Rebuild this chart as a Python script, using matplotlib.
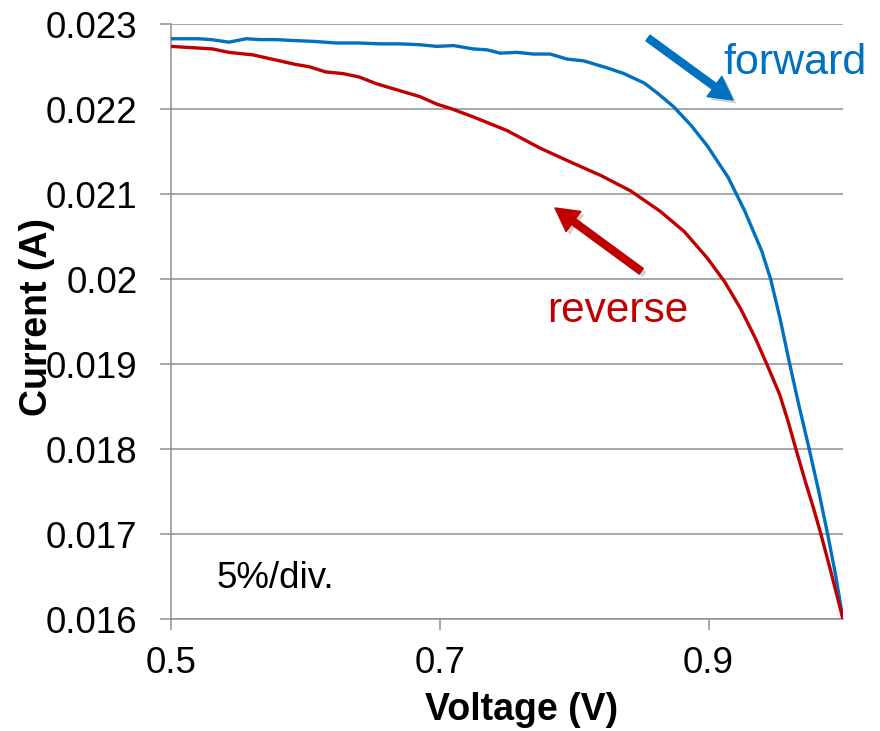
import matplotlib
matplotlib.use("Agg")
import matplotlib.pyplot as plt
from matplotlib.ticker import FixedLocator, FixedFormatter
import matplotlib.patheffects as pe

plt.rcParams['font.family'] = ['Liberation Sans', 'DejaVu Sans']

# Forward sweep (V, A)
v_forward = [0.500, 0.510, 0.520, 0.530, 0.543, 0.556, 0.566, 0.578, 0.590, 0.605,
             0.623, 0.640, 0.655, 0.670, 0.685, 0.698, 0.710, 0.725, 0.735, 0.745,
             0.757, 0.770, 0.782, 0.795, 0.807, 0.824, 0.837, 0.852, 0.862, 0.874,
             0.887, 0.899, 0.9145, 0.927, 0.9396, 0.9462, 0.9530, 0.9600, 0.9670,
             0.9749, 0.9820, 0.9886, 0.9945, 1.000]
i_forward = [0.02283, 0.02283, 0.02283, 0.02282, 0.02279, 0.02283, 0.02282, 0.02282, 0.02281, 0.02280,
             0.02278, 0.02278, 0.02277, 0.02277, 0.02276, 0.02274, 0.02275, 0.02271, 0.02270, 0.02266,
             0.02267, 0.02265, 0.02265, 0.02259, 0.02257, 0.02249, 0.02242, 0.02231, 0.02219, 0.02203,
             0.02181, 0.02157, 0.02120, 0.02080, 0.02033, 0.02000, 0.01955, 0.01903, 0.01853,
             0.01800, 0.01750, 0.01700, 0.01652, 0.01600]

# Reverse sweep (V, A)
v_reverse = [0.500, 0.531, 0.543, 0.561, 0.578, 0.592, 0.603, 0.615, 0.628, 0.640,
             0.653, 0.670, 0.685, 0.698, 0.708, 0.725, 0.750, 0.775, 0.800, 0.820,
             0.842, 0.864, 0.882, 0.899, 0.912, 0.924, 0.935, 0.945, 0.953, 0.9593,
             0.965, 0.972, 0.978, 0.9836, 0.990, 0.995, 1.000]
i_reverse = [0.02274, 0.02271, 0.02267, 0.02264, 0.02258, 0.02253, 0.02250, 0.02244, 0.02242, 0.02238,
             0.02230, 0.02222, 0.02215, 0.02206, 0.02201, 0.02191, 0.02175, 0.02154, 0.02136, 0.02122,
             0.02104, 0.02080, 0.02056, 0.02025, 0.01997, 0.01965, 0.01930, 0.01894, 0.01864, 0.01832,
             0.01800, 0.01762, 0.01731, 0.01700, 0.01662, 0.01631, 0.01600]

x_ticks = [0.5, 0.7, 0.9]
x_tick_labels = ["0.5", "0.7", "0.9"]
y_ticks = [0.016, 0.017, 0.018, 0.019, 0.020, 0.021, 0.022, 0.023]
y_tick_labels = ["0.016", "0.017", "0.018", "0.019", "0.02", "0.021", "0.022", "0.023"]

BLUE = "#0070C0"
RED = "#C00000"
GRID = "#8f8f8f"

fig = plt.figure(figsize=(8.8, 7.31), dpi=100)
ax = fig.add_axes([171 / 880, 1 - 619.3 / 731, 672 / 880, 595 / 731])

ax.plot(v_forward, i_forward, color=BLUE, lw=2.4, solid_joinstyle='round', zorder=3)
ax.plot(v_reverse, i_reverse, color=RED, lw=2.4, solid_joinstyle='round', zorder=3)

ax.set_xlim(0.5, 1.0)
ax.set_ylim(0.016, 0.023)
ax.xaxis.set_major_locator(FixedLocator(x_ticks))
ax.xaxis.set_major_formatter(FixedFormatter(x_tick_labels))
ax.yaxis.set_major_locator(FixedLocator(y_ticks))
ax.yaxis.set_major_formatter(FixedFormatter(y_tick_labels))

ax.grid(axis='y', color=GRID, lw=1.1, zorder=1)
ax.set_axisbelow(True)
for side in ('top', 'right'):
    ax.spines[side].set_visible(False)
for side in ('left', 'bottom'):
    ax.spines[side].set_color(GRID)
    ax.spines[side].set_linewidth(1.1)
ax.tick_params(axis='both', colors=GRID, width=1.1, length=8, direction='out',
               labelsize=26.5, labelcolor='black')
ax.tick_params(axis='y', pad=16)
ax.tick_params(axis='x', pad=11)

ax.set_xlabel("Voltage (V)", fontsize=27, fontweight='bold')
ax.set_ylabel("Current (A)", fontsize=27, fontweight='bold')
ax.xaxis.label.set_va('center')
ax.yaxis.label.set_va('center')
ax.xaxis.set_label_coords(0.522, -0.1524)
ax.yaxis.set_label_coords(-0.1994, 0.508)

shadow = [pe.SimplePatchShadow(offset=(2.5, -2.5), shadow_rgbFace='#808080', alpha=0.35),
          pe.Normal()]
arrow_style = "simple,tail_width=0.5,head_width=1.8,head_length=1.65"

ax.annotate("", xy=(0.8363, 0.8728), xytext=(0.7098, 0.9770),
            xycoords='axes fraction', textcoords='axes fraction',
            arrowprops=dict(arrowstyle=arrow_style, mutation_scale=10, color=BLUE,
                            shrinkA=0, shrinkB=0, path_effects=shadow))
ax.annotate("", xy=(0.5714, 0.6913), xytext=(0.6998, 0.5850),
            xycoords='axes fraction', textcoords='axes fraction',
            arrowprops=dict(arrowstyle=arrow_style, mutation_scale=10, color=RED,
                            shrinkA=0, shrinkB=0, path_effects=shadow))

ax.text(0.9286, 0.9173, "forward", transform=ax.transAxes, color=BLUE,
        fontsize=31, ha='center', va='baseline')
ax.text(0.6644, 0.5002, "reverse", transform=ax.transAxes, color=RED,
        fontsize=30.5, ha='center', va='baseline')
ax.text(0.068, 0.0521, "5%/div.", transform=ax.transAxes, color='black',
        fontsize=26.5, ha='left', va='baseline')

fig.savefig("out.png", dpi=100)
